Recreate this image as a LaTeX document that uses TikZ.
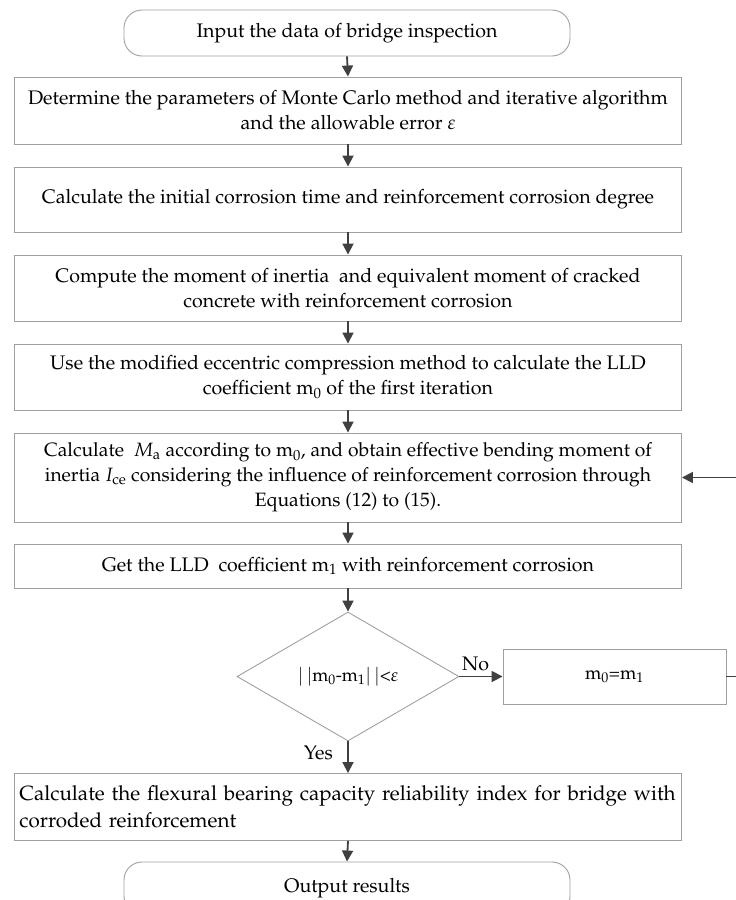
\documentclass[tikz,border=0pt]{standalone}
\usepackage[T1]{fontenc}
\usepackage{mathpazo}
\usetikzlibrary{arrows.meta,shapes.geometric}
\definecolor{boxline}{HTML}{A0A0A0}
\definecolor{arrowc}{HTML}{404040}
\begin{document}
\begin{tikzpicture}[x=1pt,y=-1pt,
  every node/.style={font=\fontsize{19.6}{25}\selectfont},
  stepbox/.style={draw=boxline, line width=0.9pt, minimum width=667pt, inner sep=0pt, align=center},
  term/.style={stepbox, minimum width=446pt, rounded corners=18pt},
  arr/.style={draw=arrowc, line width=1.8pt, -{Triangle[length=11pt,width=11pt]}},
  lbl/.style={inner sep=0pt}
]
\useasboundingbox (0,0) rectangle (736,900);
\node[term, minimum height=46pt] (t1) at (347,33) {Input the data of bridge inspection};
\node[stepbox, minimum height=67pt] (b2) at (348,110.5) {Determine the parameters of Monte Carlo method and iterative algorithm\\and the allowable error $\varepsilon$};
\node[stepbox, minimum height=65pt] (b3) at (348,199.5) {Calculate the initial corrosion time and reinforcement corrosion degree};
\node[stepbox, minimum height=66pt] (b4) at (348,288) {Compute the moment of inertia\ \ and equivalent moment of cracked\\concrete with reinforcement corrosion};
\node[stepbox, minimum height=66pt] (b5) at (348,377) {Use the modified eccentric compression method to calculate the LLD\\coefficient m\textsubscript{0} of the first iteration};
\node[stepbox, minimum height=89pt, font=\fontsize{19.3}{25}\selectfont] (b6) at (348,477.5) {Calculate\ \ $M_{\mathrm{a}}$ according to m$_0$, and obtain effective bending moment of\\inertia $I_{\mathrm{ce}}$ considering the influence of reinforcement corrosion through\\Equations (12) to (15).};
\node[stepbox, minimum height=44pt] (b7) at (348,566) {Get the LLD\ \ coefficient m\textsubscript{1} with reinforcement corrosion};
\node[diamond, draw=boxline, line width=0.9pt, minimum width=222pt, minimum height=129pt, inner sep=0pt, aspect=1.75, font=\fontsize{18.2}{22}\selectfont] (dec) at (348,676.5) {$|\,|$m\textsubscript{0}-m\textsubscript{1}$|\,|$<$\varepsilon$};
\node[stepbox, minimum width=223pt, minimum height=55pt, font=\fontsize{18.5}{22}\selectfont] (b9) at (614.5,676.5) {m\textsubscript{0}=m\textsubscript{1}};
\node[stepbox, minimum height=67pt, text width=657pt, align=left, font=\fontsize{20.6}{27}\selectfont] (b8) at (348,807) {Calculate the flexural bearing capacity reliability index for bridge with\\corroded reinforcement};
\node[term, minimum height=52pt] (t2) at (347,888) {Output results};
\coordinate (fb) at (748,0);
\draw[arr] (t1.south) -- (b2.north);
\draw[arr] (b2.south) -- (b3.north);
\draw[arr] (b3.south) -- (b4.north);
\draw[arr] (b4.south) -- (b5.north);
\draw[arr] (b5.south) -- (b6.north);
\draw[arr] (b6.south) -- (b7.north);
\draw[arr] (b7.south) -- (dec.north);
\draw[arr] (dec.south) -- (b8.north);
\draw[arr] (b8.south) -- (t2.north);
\draw[arr] (dec.east) -- (dec.east -| b9.west);
\draw[arr] (b9.east) -- (b9.east -| fb) |- (b6.east);
\node[lbl, anchor=base] (no) at (475.5,670) {No};
\node[lbl, anchor=base east] (yes) at (333,759) {Yes};
\end{tikzpicture}
\end{document}
